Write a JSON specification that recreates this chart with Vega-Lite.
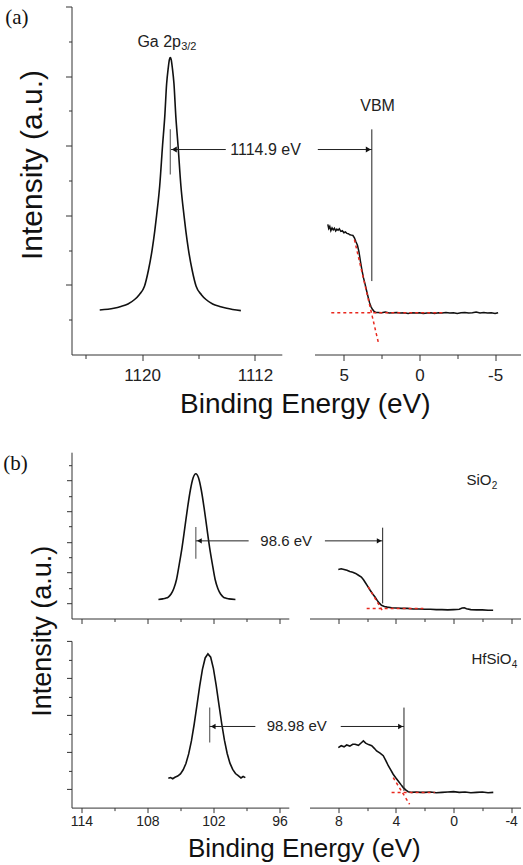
{
  "$schema": "https://vega.github.io/schema/vega-lite/v6.json",
  "padding": {"left": 2.5, "top": 5.5, "right": 2, "bottom": 4},
  "autosize": {"type": "pad"},
  "columns": 2,
  "align": "none",
  "bounds": "flush",
  "spacing": {"row": 21.7, "column": 20},
  "config": {
    "view": {"stroke": null},
    "font": "Liberation Sans",
    "axis": {"grid": false, "domainColor": "#333", "tickColor": "#333", "domainWidth": 1, "tickWidth": 1, "labelColor": "#222", "titleColor": "#111", "labelFont": "Liberation Sans", "titleFont": "Liberation Sans", "titleFontWeight": "normal", "labelFlush": false, "labelOverlap": false}
  },
  "concat": [
    {
      "width": 217.3, "height": 423.3,
      "encoding": {
        "x": {"field": "x", "type": "quantitative", "scale": {"domain": [1125, 1110.1], "range": [0, 210.3], "nice": false, "zero": false},
          "axis": {"values": [1124, 1120, 1116, 1112], "labelExpr": "datum.value % 8 === 0 ? toString(datum.value) : ''", "tickSize": {"condition": {"test": "datum.value % 8 === 0", "value": 6}, "value": 4}, "labelFontSize": 17, "labelPadding": 7, "offset": -75.3, "title": "Binding Energy (eV)", "titleFontSize": 28, "titleX": 233.3, "titleY": 58, "titleAlign": "center", "titleBaseline": "alphabetic"}},
        "y": {"field": "y", "type": "quantitative", "scale": {"domain": [0, 10], "range": [348, 0], "nice": false, "zero": false},
          "axis": {"values": [1, 2, 3, 4, 5, 6, 7, 8, 9, 10], "labels": false, "tickSize": {"condition": {"test": "datum.value % 2 === 0", "value": 6}, "value": 3}, "title": "Intensity (a.u.)", "titleFontSize": 30, "titleX": -39, "titleY": 158, "titleAlign": "center", "titleBaseline": "middle", "titleAngle": 270}}
      },
      "layer": [
        {"data": {"values": [
          {"x": 1123.0, "y": 1.28}, {"x": 1122.0, "y": 1.33}, {"x": 1121.5, "y": 1.38}, {"x": 1121.0, "y": 1.45}, {"x": 1120.53, "y": 1.58}, {"x": 1120.2, "y": 1.72}, {"x": 1119.83, "y": 1.96}, {"x": 1119.55, "y": 2.42}, {"x": 1119.29, "y": 3.0}, {"x": 1119.1, "y": 3.55}, {"x": 1118.97, "y": 4.0}, {"x": 1118.75, "y": 4.85}, {"x": 1118.55, "y": 6.0}, {"x": 1118.39, "y": 6.85}, {"x": 1118.26, "y": 7.78}, {"x": 1118.15, "y": 8.22}, {"x": 1118.06, "y": 8.48}, {"x": 1118.0, "y": 8.53}, {"x": 1117.94, "y": 8.48}, {"x": 1117.85, "y": 8.22}, {"x": 1117.74, "y": 7.78}, {"x": 1117.61, "y": 6.85}, {"x": 1117.45, "y": 6.0}, {"x": 1117.25, "y": 4.85}, {"x": 1117.03, "y": 4.0}, {"x": 1116.9, "y": 3.55}, {"x": 1116.71, "y": 3.0}, {"x": 1116.45, "y": 2.42}, {"x": 1116.17, "y": 1.96}, {"x": 1115.8, "y": 1.72}, {"x": 1115.47, "y": 1.58}, {"x": 1115.0, "y": 1.45}, {"x": 1114.5, "y": 1.38}, {"x": 1114.0, "y": 1.33}, {"x": 1113.0, "y": 1.26}
        ]}, "mark": {"type": "line", "color": "#111", "strokeWidth": 1.6, "interpolate": "monotone"}},
        {"data": {"values": [{"x": 1118.0, "y": 5.17, "y2": 6.47}]}, "mark": {"type": "rule", "color": "#666", "strokeWidth": 1.2}, "encoding": {"y2": {"field": "y2"}}},
        {"data": {"values": [{"x": 1114.07, "x2": 1117.95, "y": 5.89}]}, "mark": {"type": "rule", "color": "#222", "strokeWidth": 1}, "encoding": {"x2": {"field": "x2"}}},
        {"data": {"values": [{"x": 1117.72, "y": 5.89}]}, "mark": {"type": "point", "shape": "triangle-left", "filled": true, "size": 35, "color": "#111", "opacity": 1}},
        {"data": {"values": [{"x": 1113.75, "y": 5.89, "label": "1114.9 eV"}]}, "mark": {"type": "text", "align": "left", "baseline": "middle", "fontSize": 16, "color": "#222"}, "encoding": {"text": {"field": "label"}}},
        {"data": {"values": [{"x": 1120.33, "y": 8.85, "label": "Ga 2p"}]}, "mark": {"type": "text", "align": "left", "baseline": "alphabetic", "fontSize": 16, "color": "#222"}, "encoding": {"text": {"field": "label"}}},
        {"data": {"values": [{"x": 1117.23, "y": 8.74, "label": "3/2"}]}, "mark": {"type": "text", "align": "left", "baseline": "alphabetic", "fontSize": 11, "color": "#222"}, "encoding": {"text": {"field": "label"}}},
        {"data": {"values": [{"x": 1128.87, "y": 9.68, "label": "(a)"}]}, "mark": {"type": "text", "align": "center", "baseline": "middle", "fontSize": 21, "font": "Liberation Serif", "color": "#111"}, "encoding": {"text": {"field": "label"}}}
      ]
    },
    {
      "width": 211, "height": 423.3,
      "encoding": {
        "x": {"field": "x", "type": "quantitative", "scale": {"domain": [6.94, -6.68], "range": [5, 211], "nice": false, "zero": false},
          "axis": {"values": [5, 2.5, 0, -2.5, -5], "labelExpr": "datum.value % 5 === 0 ? toString(datum.value) : ''", "tickSize": {"condition": {"test": "datum.value % 5 === 0", "value": 6}, "value": 4}, "labelFontSize": 17, "labelPadding": 7, "offset": -75.3, "title": null}},
        "y": {"field": "y", "type": "quantitative", "scale": {"domain": [0, 10], "range": [348, 0], "nice": false, "zero": false}, "axis": null}
      },
      "layer": [
        {"data": {"values": [
          {"x": 6.06, "y": 3.74}, {"x": 6.0, "y": 3.62}, {"x": 5.93, "y": 3.68}, {"x": 5.86, "y": 3.56}, {"x": 5.78, "y": 3.64}, {"x": 5.7, "y": 3.58}, {"x": 5.62, "y": 3.63}, {"x": 5.54, "y": 3.55}, {"x": 5.46, "y": 3.6}, {"x": 5.38, "y": 3.57}, {"x": 5.3, "y": 3.61}, {"x": 5.2, "y": 3.54}, {"x": 5.1, "y": 3.56}, {"x": 5.0, "y": 3.5}, {"x": 4.9, "y": 3.52}, {"x": 4.8, "y": 3.48}, {"x": 4.7, "y": 3.47}, {"x": 4.6, "y": 3.44}, {"x": 4.5, "y": 3.43}, {"x": 4.4, "y": 3.42}, {"x": 4.3, "y": 3.35}, {"x": 4.2, "y": 3.24}, {"x": 4.1, "y": 3.14}, {"x": 4.0, "y": 2.95}, {"x": 3.9, "y": 2.67}, {"x": 3.8, "y": 2.42}, {"x": 3.7, "y": 2.2}, {"x": 3.6, "y": 2.03}, {"x": 3.5, "y": 1.84}, {"x": 3.4, "y": 1.66}, {"x": 3.3, "y": 1.49}, {"x": 3.2, "y": 1.37}, {"x": 3.1, "y": 1.29}, {"x": 3.0, "y": 1.24}, {"x": 2.9, "y": 1.21}, {"x": 2.75, "y": 1.21}, {"x": 2.5, "y": 1.2}, {"x": 2.25, "y": 1.22}, {"x": 2.0, "y": 1.19}, {"x": 1.75, "y": 1.2}, {"x": 1.5, "y": 1.21}, {"x": 1.25, "y": 1.19}, {"x": 1.0, "y": 1.2}, {"x": 0.75, "y": 1.18}, {"x": 0.5, "y": 1.2}, {"x": 0.25, "y": 1.19}, {"x": 0.0, "y": 1.2}, {"x": -0.25, "y": 1.18}, {"x": -0.5, "y": 1.19}, {"x": -0.75, "y": 1.2}, {"x": -1.0, "y": 1.18}, {"x": -1.25, "y": 1.2}, {"x": -1.5, "y": 1.19}, {"x": -1.75, "y": 1.21}, {"x": -2.0, "y": 1.19}, {"x": -2.25, "y": 1.2}, {"x": -2.5, "y": 1.18}, {"x": -2.75, "y": 1.2}, {"x": -3.0, "y": 1.21}, {"x": -3.25, "y": 1.19}, {"x": -3.5, "y": 1.2}, {"x": -3.75, "y": 1.22}, {"x": -4.0, "y": 1.19}, {"x": -4.25, "y": 1.21}, {"x": -4.5, "y": 1.19}, {"x": -4.75, "y": 1.2}, {"x": -5.0, "y": 1.18}, {"x": -5.2, "y": 1.2}
        ]}, "mark": {"type": "line", "color": "#111", "strokeWidth": 1.5}},
        {"data": {"values": [{"x": 5.83, "y": 1.2, "seg": "h"}, {"x": -1.66, "y": 1.2, "seg": "h"}, {"x": 4.3, "y": 3.3, "seg": "s"}, {"x": 2.69, "y": 0.29, "seg": "s"}]}, "mark": {"type": "line", "color": "#e8281e", "strokeWidth": 1.5, "strokeDash": [3, 3]}, "encoding": {"detail": {"field": "seg"}}},
        {"data": {"values": [{"x": 3.15, "y": 2.11, "y2": 6.47}]}, "mark": {"type": "rule", "color": "#222", "strokeWidth": 1}, "encoding": {"y2": {"field": "y2"}}},
        {"data": {"values": [{"x": 6.72, "x2": 3.15, "y": 5.89}]}, "mark": {"type": "rule", "color": "#222", "strokeWidth": 1}, "encoding": {"x2": {"field": "x2"}}},
        {"data": {"values": [{"x": 3.38, "y": 5.89}]}, "mark": {"type": "point", "shape": "triangle-right", "filled": true, "size": 35, "color": "#111", "opacity": 1}},
        {"data": {"values": [{"x": 2.77, "y": 7.13, "label": "VBM"}]}, "mark": {"type": "text", "align": "center", "baseline": "middle", "fontSize": 16, "color": "#222"}, "encoding": {"text": {"field": "label"}}}
      ]
    },
    {
      "width": 217.3, "height": 166.3,
      "encoding": {
        "x": {"field": "x", "type": "quantitative", "scale": {"domain": [114.9, 95.15], "nice": false, "zero": false},
          "axis": {"values": [114, 111, 108, 105, 102, 99, 96], "labels": false, "tickSize": {"condition": {"test": "datum.value % 6 === 0", "value": 5}, "value": 3}, "title": null}},
        "y": {"field": "y", "type": "quantitative", "scale": {"domain": [0, 5.42], "nice": false, "zero": false},
          "axis": {"values": [0.5, 1, 1.5, 2, 2.5, 3, 3.5, 4, 4.5, 5], "labels": false, "tickSize": {"condition": {"test": "datum.value % 1 === 0.5", "value": 5}, "value": 3}, "title": "Intensity (a.u.)", "titleFontSize": 27, "titleX": -28.7, "titleY": 178.5, "titleAlign": "center", "titleBaseline": "middle", "titleAngle": 270}}
      },
      "layer": [
        {"data": {"values": [
          {"x": 107.0, "y": 0.62}, {"x": 106.6, "y": 0.64}, {"x": 106.35, "y": 0.66}, {"x": 106.1, "y": 0.7}, {"x": 105.85, "y": 0.8}, {"x": 105.6, "y": 0.98}, {"x": 105.35, "y": 1.28}, {"x": 105.1, "y": 1.78}, {"x": 104.85, "y": 2.32}, {"x": 104.6, "y": 2.96}, {"x": 104.35, "y": 3.61}, {"x": 104.1, "y": 4.18}, {"x": 103.85, "y": 4.58}, {"x": 103.6, "y": 4.72}, {"x": 103.35, "y": 4.58}, {"x": 103.1, "y": 4.18}, {"x": 102.85, "y": 3.61}, {"x": 102.6, "y": 2.96}, {"x": 102.35, "y": 2.32}, {"x": 102.1, "y": 1.78}, {"x": 101.85, "y": 1.28}, {"x": 101.6, "y": 0.98}, {"x": 101.35, "y": 0.8}, {"x": 101.1, "y": 0.7}, {"x": 100.85, "y": 0.66}, {"x": 100.6, "y": 0.64}, {"x": 100.0, "y": 0.62}
        ]}, "mark": {"type": "line", "color": "#111", "strokeWidth": 1.6, "interpolate": "monotone"}},
        {"data": {"values": [{"x": 103.6, "y": 1.95, "y2": 2.98}]}, "mark": {"type": "rule", "color": "#666", "strokeWidth": 1.2}, "encoding": {"y2": {"field": "y2"}}},
        {"data": {"values": [{"x": 98.8, "x2": 103.6, "y": 2.53}]}, "mark": {"type": "rule", "color": "#222", "strokeWidth": 1}, "encoding": {"x2": {"field": "x2"}}},
        {"data": {"values": [{"x": 103.28, "y": 2.53}]}, "mark": {"type": "point", "shape": "triangle-left", "filled": true, "size": 30, "color": "#111", "opacity": 1}},
        {"data": {"values": [{"x": 97.74, "y": 2.53, "label": "98.6 eV"}]}, "mark": {"type": "text", "align": "left", "baseline": "middle", "fontSize": 15, "color": "#222"}, "encoding": {"text": {"field": "label"}}},
        {"data": {"values": [{"x": 120.0, "y": 5.04, "label": "(b)"}]}, "mark": {"type": "text", "align": "center", "baseline": "middle", "fontSize": 21, "font": "Liberation Serif", "color": "#111"}, "encoding": {"text": {"field": "label"}}}
      ]
    },
    {
      "width": 211, "height": 166.3,
      "encoding": {
        "x": {"field": "x", "type": "quantitative", "scale": {"domain": [10, -4.65], "nice": false, "zero": false},
          "axis": {"values": [8, 6, 4, 2, 0, -2, -4], "labels": false, "tickSize": {"condition": {"test": "datum.value % 4 === 0", "value": 5}, "value": 3}, "title": null}},
        "y": {"field": "y", "type": "quantitative", "scale": {"domain": [0, 5.42], "nice": false, "zero": false}, "axis": null}
      },
      "layer": [
        {"data": {"values": [
          {"x": 8.0, "y": 1.6}, {"x": 7.8, "y": 1.62}, {"x": 7.6, "y": 1.6}, {"x": 7.4, "y": 1.57}, {"x": 7.2, "y": 1.53}, {"x": 7.0, "y": 1.51}, {"x": 6.8, "y": 1.47}, {"x": 6.6, "y": 1.41}, {"x": 6.4, "y": 1.35}, {"x": 6.25, "y": 1.26}, {"x": 6.15, "y": 1.19}, {"x": 6.0, "y": 1.08}, {"x": 5.8, "y": 0.93}, {"x": 5.6, "y": 0.79}, {"x": 5.45, "y": 0.7}, {"x": 5.3, "y": 0.59}, {"x": 5.15, "y": 0.5}, {"x": 5.0, "y": 0.43}, {"x": 4.8, "y": 0.39}, {"x": 4.6, "y": 0.37}, {"x": 4.3, "y": 0.35}, {"x": 4.0, "y": 0.34}, {"x": 3.6, "y": 0.33}, {"x": 3.2, "y": 0.33}, {"x": 2.8, "y": 0.31}, {"x": 2.4, "y": 0.31}, {"x": 2.0, "y": 0.3}, {"x": 1.6, "y": 0.3}, {"x": 1.2, "y": 0.29}, {"x": 0.8, "y": 0.29}, {"x": 0.4, "y": 0.28}, {"x": 0.0, "y": 0.29}, {"x": -0.4, "y": 0.3}, {"x": -0.6, "y": 0.34}, {"x": -0.75, "y": 0.35}, {"x": -0.9, "y": 0.32}, {"x": -1.2, "y": 0.29}, {"x": -1.6, "y": 0.28}, {"x": -2.0, "y": 0.28}, {"x": -2.4, "y": 0.27}, {"x": -2.75, "y": 0.27}
        ]}, "mark": {"type": "line", "color": "#111", "strokeWidth": 1.6}},
        {"data": {"values": [{"x": 6.03, "y": 0.33, "seg": "h"}, {"x": 2.1, "y": 0.33, "seg": "h"}, {"x": 5.92, "y": 1.03, "seg": "s"}, {"x": 4.88, "y": 0.21, "seg": "s"}]}, "mark": {"type": "line", "color": "#e8281e", "strokeWidth": 1.5, "strokeDash": [3, 3]}, "encoding": {"detail": {"field": "seg"}}},
        {"data": {"values": [{"x": 4.92, "y": 0.49, "y2": 2.96}]}, "mark": {"type": "rule", "color": "#222", "strokeWidth": 1}, "encoding": {"y2": {"field": "y2"}}},
        {"data": {"values": [{"x": 8.93, "x2": 4.92, "y": 2.53}]}, "mark": {"type": "rule", "color": "#222", "strokeWidth": 1}, "encoding": {"x2": {"field": "x2"}}},
        {"data": {"values": [{"x": 5.16, "y": 2.53}]}, "mark": {"type": "point", "shape": "triangle-right", "filled": true, "size": 30, "color": "#111", "opacity": 1}},
        {"data": {"values": [{"x": -0.9, "y": 4.34, "label": "SiO"}]}, "mark": {"type": "text", "align": "left", "baseline": "alphabetic", "fontSize": 15, "color": "#222"}, "encoding": {"text": {"field": "label"}}},
        {"data": {"values": [{"x": -2.66, "y": 4.21, "label": "2"}]}, "mark": {"type": "text", "align": "left", "baseline": "alphabetic", "fontSize": 10, "color": "#222"}, "encoding": {"text": {"field": "label"}}}
      ]
    },
    {
      "width": 217.3, "height": 166.7,
      "encoding": {
        "x": {"field": "x", "type": "quantitative", "scale": {"domain": [114.9, 95.15], "nice": false, "zero": false},
          "axis": {"values": [114, 111, 108, 105, 102, 99, 96], "labelExpr": "datum.value % 6 === 0 ? toString(datum.value) : ''", "tickSize": {"condition": {"test": "datum.value % 6 === 0", "value": 5}, "value": 3}, "labelFontSize": 14, "labelPadding": 2, "title": "Binding Energy (eV)", "titleFontSize": 26, "titleX": 232.3, "titleY": 49.3, "titleAlign": "center", "titleBaseline": "alphabetic"}},
        "y": {"field": "y", "type": "quantitative", "scale": {"domain": [0, 4.5], "nice": false, "zero": false},
          "axis": {"values": [0.5, 1, 1.5, 2, 2.5, 3, 3.5, 4, 4.5], "labels": false, "tickSize": {"condition": {"test": "datum.value % 1 === 0.5", "value": 5}, "value": 3}, "title": null}}
      },
      "layer": [
        {"data": {"values": [
          {"x": 106.1, "y": 0.79}, {"x": 105.9, "y": 0.81}, {"x": 105.7, "y": 0.78}, {"x": 105.5, "y": 0.82}, {"x": 105.25, "y": 0.85}, {"x": 105.0, "y": 0.91}, {"x": 104.75, "y": 1.02}, {"x": 104.5, "y": 1.19}, {"x": 104.25, "y": 1.45}, {"x": 104.0, "y": 1.8}, {"x": 103.75, "y": 2.25}, {"x": 103.5, "y": 2.76}, {"x": 103.25, "y": 3.28}, {"x": 103.0, "y": 3.73}, {"x": 102.75, "y": 4.04}, {"x": 102.5, "y": 4.15}, {"x": 102.25, "y": 4.06}, {"x": 102.0, "y": 3.75}, {"x": 101.75, "y": 3.3}, {"x": 101.5, "y": 2.78}, {"x": 101.25, "y": 2.27}, {"x": 101.0, "y": 1.82}, {"x": 100.75, "y": 1.46}, {"x": 100.5, "y": 1.2}, {"x": 100.25, "y": 1.03}, {"x": 100.0, "y": 0.92}, {"x": 99.75, "y": 0.86}, {"x": 99.5, "y": 0.8}, {"x": 99.3, "y": 0.84}, {"x": 99.1, "y": 0.81}
        ]}, "mark": {"type": "line", "color": "#111", "strokeWidth": 1.6}},
        {"data": {"values": [{"x": 102.34, "y": 1.76, "y2": 2.7}]}, "mark": {"type": "rule", "color": "#666", "strokeWidth": 1.2}, "encoding": {"y2": {"field": "y2"}}},
        {"data": {"values": [{"x": 98.19, "x2": 102.34, "y": 2.19}]}, "mark": {"type": "rule", "color": "#222", "strokeWidth": 1}, "encoding": {"x2": {"field": "x2"}}},
        {"data": {"values": [{"x": 102.02, "y": 2.19}]}, "mark": {"type": "point", "shape": "triangle-left", "filled": true, "size": 30, "color": "#111", "opacity": 1}},
        {"data": {"values": [{"x": 97.16, "y": 2.19, "label": "98.98 eV"}]}, "mark": {"type": "text", "align": "left", "baseline": "middle", "fontSize": 15, "color": "#222"}, "encoding": {"text": {"field": "label"}}}
      ]
    },
    {
      "width": 211, "height": 166.7,
      "encoding": {
        "x": {"field": "x", "type": "quantitative", "scale": {"domain": [10, -4.65], "nice": false, "zero": false},
          "axis": {"values": [8, 6, 4, 2, 0, -2, -4], "labelExpr": "datum.value % 4 === 0 ? toString(datum.value) : ''", "tickSize": {"condition": {"test": "datum.value % 4 === 0", "value": 5}, "value": 3}, "labelFontSize": 14, "labelPadding": 2, "title": null}},
        "y": {"field": "y", "type": "quantitative", "scale": {"domain": [0, 4.5], "nice": false, "zero": false}, "axis": null}
      },
      "layer": [
        {"data": {"values": [
          {"x": 8.0, "y": 1.62}, {"x": 7.8, "y": 1.67}, {"x": 7.6, "y": 1.64}, {"x": 7.42, "y": 1.69}, {"x": 7.2, "y": 1.66}, {"x": 7.0, "y": 1.71}, {"x": 6.84, "y": 1.71}, {"x": 6.6, "y": 1.68}, {"x": 6.4, "y": 1.75}, {"x": 6.26, "y": 1.8}, {"x": 6.1, "y": 1.74}, {"x": 5.9, "y": 1.7}, {"x": 5.68, "y": 1.67}, {"x": 5.5, "y": 1.6}, {"x": 5.34, "y": 1.53}, {"x": 5.1, "y": 1.47}, {"x": 4.88, "y": 1.4}, {"x": 4.7, "y": 1.27}, {"x": 4.53, "y": 1.13}, {"x": 4.35, "y": 1.01}, {"x": 4.19, "y": 0.9}, {"x": 4.0, "y": 0.8}, {"x": 3.84, "y": 0.72}, {"x": 3.65, "y": 0.62}, {"x": 3.49, "y": 0.54}, {"x": 3.3, "y": 0.47}, {"x": 3.15, "y": 0.43}, {"x": 2.9, "y": 0.41}, {"x": 2.6, "y": 0.42}, {"x": 2.31, "y": 0.41}, {"x": 2.0, "y": 0.41}, {"x": 1.6, "y": 0.42}, {"x": 1.2, "y": 0.4}, {"x": 0.8, "y": 0.41}, {"x": 0.4, "y": 0.42}, {"x": 0.0, "y": 0.43}, {"x": -0.4, "y": 0.41}, {"x": -0.8, "y": 0.42}, {"x": -1.2, "y": 0.4}, {"x": -1.6, "y": 0.41}, {"x": -2.0, "y": 0.42}, {"x": -2.4, "y": 0.4}, {"x": -2.76, "y": 0.41}
        ]}, "mark": {"type": "line", "color": "#111", "strokeWidth": 1.6}},
        {"data": {"values": [{"x": 4.3, "y": 0.41, "seg": "h"}, {"x": 1.3, "y": 0.41, "seg": "h"}, {"x": 4.19, "y": 0.81, "seg": "s"}, {"x": 3.05, "y": 0.09, "seg": "s"}]}, "mark": {"type": "line", "color": "#e8281e", "strokeWidth": 1.5, "strokeDash": [3, 3]}, "encoding": {"detail": {"field": "seg"}}},
        {"data": {"values": [{"x": 3.44, "y": 0.45, "y2": 2.7}]}, "mark": {"type": "rule", "color": "#222", "strokeWidth": 1}, "encoding": {"y2": {"field": "y2"}}},
        {"data": {"values": [{"x": 7.83, "x2": 3.44, "y": 2.19}]}, "mark": {"type": "rule", "color": "#222", "strokeWidth": 1}, "encoding": {"x2": {"field": "x2"}}},
        {"data": {"values": [{"x": 3.68, "y": 2.19}]}, "mark": {"type": "point", "shape": "triangle-right", "filled": true, "size": 30, "color": "#111", "opacity": 1}},
        {"data": {"values": [{"x": -1.25, "y": 3.88, "label": "HfSiO"}]}, "mark": {"type": "text", "align": "left", "baseline": "alphabetic", "fontSize": 15, "color": "#222"}, "encoding": {"text": {"field": "label"}}},
        {"data": {"values": [{"x": -4.05, "y": 3.78, "label": "4"}]}, "mark": {"type": "text", "align": "left", "baseline": "alphabetic", "fontSize": 10, "color": "#222"}, "encoding": {"text": {"field": "label"}}}
      ]
    }
  ]
}
